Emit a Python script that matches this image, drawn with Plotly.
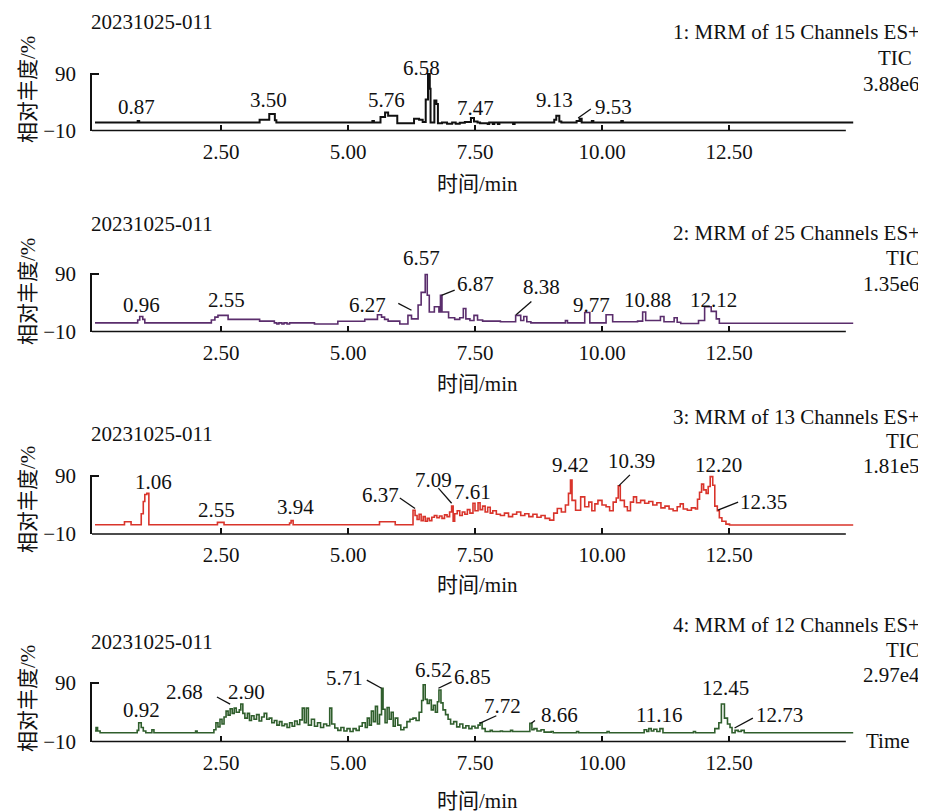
import plotly.graph_objects as go

W, H = 926, 811
OFF = 8  # the page body adds an 8 px margin; positions below are in screenshot pixels
FONT = "Liberation Serif, Times New Roman, Noto Sans CJK SC, serif"
FS = 21

# ---------------- data ----------------
time_1 = [0.02, 0.86, 0.89, 3.26, 3.45, 3.56, 3.59, 5.48, 5.51, 5.64,
          5.73, 5.79, 5.97, 6.30, 6.40, 6.47, 6.53, 6.575, 6.61, 6.625,
          6.70, 6.74, 6.77, 6.85, 6.95, 7.05, 7.12, 7.20, 7.30, 7.42,
          7.48, 7.55, 7.60, 7.75, 7.78, 7.85, 7.88, 7.95, 7.98, 8.25,
          8.28, 9.06, 9.10, 9.16, 9.20, 9.50, 9.56, 9.60, 9.80, 9.83,
          10.38, 10.41, 14.95]
abund_1 = [4, 7, 4, 9, 19, 8, 4, 7, 4, 14,
           22, 16, 3, 11, 9, 5, 45, 90, 64, 4,
           43, 37, 3, 4, 2, 4, 2, 3.5, 5, 12,
           6, 4, 3, 1.5, 4, 1.5, 4, 1.5, 4, 1.5,
           4, 9, 16, 6, 4, 7, 11, 4, 7, 4,
           7, 4, 4]

time_2 = [0.02, 0.86, 0.90, 0.96, 1.00, 2.31, 2.38, 2.44, 2.64, 3.26,
          3.55, 3.60, 3.64, 3.70, 3.74, 3.80, 3.85, 4.34, 4.80, 5.33,
          5.58, 5.66, 5.72, 5.79, 6.02, 6.18, 6.25, 6.38, 6.44, 6.52,
          6.56, 6.60, 6.70, 6.79, 6.82, 6.85, 6.98, 7.10, 7.20, 7.27,
          7.32, 7.40, 7.48, 7.55, 7.65, 8.00, 8.30, 8.40, 8.46, 8.52,
          8.60, 9.25, 9.28, 9.32, 9.66, 9.76, 10.08, 10.21, 10.70, 10.80,
          10.86, 11.15, 11.22, 11.42, 11.48, 11.55, 11.90, 12.02, 12.15, 12.25,
          12.31, 14.95]
abund_2 = [5, 10, 16, 11, 5, 10, 15, 18, 11, 8,
           5, 3, 5, 3, 5, 3, 5, 3, 7.7, 11,
           19, 15, 11, 8, 3, 18, 12, 36, 58, 89,
           53, 24, 33, 24, 53, 24, 14, 11, 14, 30,
           12, 9, 18, 10, 8, 7, 18, 9, 16, 7,
           5, 5, 9, 5, 23, 5, 19, 7, 8, 24,
           9, 16, 7, 14, 6, 4, 9, 33, 25, 12,
           4.3, 4.3]

time_3 = [0.02, 0.60, 0.73, 0.93, 0.97, 1.00, 1.04, 1.08, 2.43, 2.56,
          3.85, 3.88, 3.92, 5.62, 5.93, 6.28, 6.32, 6.36, 6.40, 6.44,
          6.48, 6.52, 6.56, 6.60, 6.65, 6.70, 6.75, 6.80, 6.85, 6.90,
          6.95, 7.00, 7.04, 7.07, 7.10, 7.15, 7.20, 7.25, 7.30, 7.35,
          7.40, 7.46, 7.50, 7.56, 7.60, 7.65, 7.70, 7.75, 7.80, 7.85,
          7.92, 8.00, 8.08, 8.16, 8.24, 8.32, 8.40, 8.48, 8.56, 8.64,
          8.72, 8.80, 8.88, 8.97, 9.05, 9.12, 9.20, 9.28, 9.34, 9.38,
          9.41, 9.48, 9.58, 9.66, 9.74, 9.80, 9.86, 9.92, 10.00, 10.08,
          10.15, 10.22, 10.28, 10.32, 10.36, 10.44, 10.50, 10.56, 10.62, 10.68,
          10.76, 10.84, 10.92, 11.00, 11.08, 11.16, 11.24, 11.32, 11.40, 11.48,
          11.54, 11.60, 11.68, 11.76, 11.84, 11.88, 11.92, 11.96, 12.00, 12.05,
          12.09, 12.13, 12.18, 12.22, 12.27, 12.31, 12.36, 12.44, 12.51, 14.95]
abund_3 = [6, 11, 6, 25, 46, 58, 60, 6, 10, 6,
           9, 13, 6, 11, 6, 31, 22, 15, 24, 13,
           20, 12, 17, 13, 19, 22, 18, 21, 17, 23,
           20, 28, 38, 12, 25, 30, 22, 28, 24, 32,
           26, 43, 30, 44, 32, 38, 28, 36, 26, 30,
           24, 22, 26, 20, 24, 28, 22, 25, 20, 24,
           19, 22, 17, 14, 26, 34, 28, 40, 60, 83,
           48, 31, 54, 37, 45, 30, 42, 48, 40, 37,
           30, 45, 52, 73, 48, 37, 30, 45, 54, 44,
           48, 43, 46, 40, 44, 35, 38, 33, 30, 37,
           42, 33, 31, 35, 33, 50, 62, 76, 66, 60,
           72, 89, 74, 38, 30, 18, 12, 7, 5.5, 5.5]

time_4 = [0.02, 0.04, 0.07, 0.12, 0.85, 0.88, 0.93, 0.97, 1.02, 1.14,
          1.18, 2.00, 2.03, 2.36, 2.40, 2.44, 2.48, 2.52, 2.56, 2.60,
          2.64, 2.68, 2.72, 2.76, 2.80, 2.86, 2.89, 2.93, 2.97, 3.02,
          3.06, 3.10, 3.15, 3.20, 3.25, 3.30, 3.35, 3.40, 3.45, 3.50,
          3.55, 3.60, 3.65, 3.70, 3.75, 3.80, 3.85, 3.90, 3.95, 4.00,
          4.05, 4.10, 4.14, 4.18, 4.22, 4.28, 4.34, 4.40, 4.46, 4.52,
          4.58, 4.64, 4.68, 4.74, 4.80, 4.86, 4.92, 4.98, 5.04, 5.10,
          5.16, 5.22, 5.28, 5.34, 5.38, 5.42, 5.46, 5.50, 5.54, 5.58,
          5.62, 5.66, 5.69, 5.73, 5.77, 5.81, 5.85, 5.89, 5.93, 5.98,
          6.04, 6.10, 6.16, 6.22, 6.28, 6.34, 6.40, 6.45, 6.48, 6.52,
          6.56, 6.60, 6.64, 6.68, 6.72, 6.76, 6.79, 6.83, 6.87, 6.92,
          6.97, 7.02, 7.08, 7.14, 7.20, 7.26, 7.32, 7.38, 7.44, 7.50,
          7.56, 7.60, 7.64, 7.70, 7.80, 7.84, 8.00, 8.04, 8.20, 8.24,
          8.50, 8.58, 8.62, 8.66, 8.72, 8.80, 8.86, 9.00, 9.04, 9.50,
          9.54, 10.10, 10.14, 10.83, 10.88, 10.92, 10.97, 11.02, 11.08, 11.14,
          11.20, 11.80, 11.84, 12.22, 12.30, 12.35, 12.41, 12.47, 12.52, 12.56,
          12.62, 12.68, 12.74, 12.80, 14.95]
abund_4 = [8, 14, 8, 5, 9, 22, 14, 8, 5, 10,
           5, 8, 5, 10, 22, 15, 28, 20, 32, 42,
           35, 46, 38, 47, 40, 44, 54, 38, 30, 38,
           26, 34, 28, 36, 25, 32, 38, 28, 30, 22,
           26, 18, 24, 17, 20, 14, 22, 16, 25, 19,
           27, 47, 22, 47, 18, 28, 16, 22, 14, 20,
           17, 47, 20, 13, 9, 14, 8, 12, 7, 12,
           9, 16, 22, 14, 30, 18, 42, 24, 50, 20,
           36, 81, 45, 22, 48, 28, 40, 16, 30, 18,
           10, 14, 24, 28, 30, 26, 40, 60, 87, 62,
           55, 61, 44, 52, 40, 58, 78, 56, 44, 36,
           28, 20, 24, 15, 20, 13, 17, 12, 16, 13,
           18, 22, 12, 7, 9, 7, 8, 7, 9, 7,
           7, 21, 10, 12, 8, 10, 6, 7, 5, 7,
           5, 7, 5, 10, 7, 12, 8, 11, 7, 12,
           5, 7, 5, 12, 22, 54, 30, 20, 14, 5,
           9, 7, 9, 5, 5]

# peak labels: text, time position, abundance position
labels_1 = [("0.87", 0.84, 32), ("3.50", 3.43, 44), ("5.76", 5.75, 44),
            ("6.58", 6.45, 100), ("7.47", 7.50, 29), ("9.13", 9.06, 44),
            ("9.53", 10.22, 32)]
leaders_1 = [(9.53, 12, 9.78, 28)]

labels_2 = [("0.96", 0.94, 36), ("2.55", 2.61, 45), ("6.27", 5.38, 36),
            ("6.57", 6.45, 117), ("6.87", 7.50, 73), ("8.38", 8.81, 67),
            ("9.77", 9.79, 36), ("10.88", 10.89, 45), ("12.12", 12.20, 45)]
leaders_2 = [(5.99, 39, 6.25, 27), (6.84, 53, 7.10, 62), (8.31, 19, 8.61, 42)]

labels_3 = [("1.06", 1.18, 80), ("2.55", 2.42, 31), ("3.94", 3.96, 37),
            ("6.37", 5.63, 57), ("7.09", 6.68, 83), ("7.61", 7.46, 63),
            ("9.42", 9.38, 109), ("10.39", 10.58, 115), ("12.20", 12.30, 109),
            ("12.35", 13.17, 46)]
leaders_3 = [(6.02, 52, 6.32, 34), (6.78, 69, 7.04, 43), (10.33, 73, 10.55, 92),
             (12.28, 31, 12.68, 45)]

labels_4 = [("0.92", 0.94, 44), ("2.68", 1.79, 75), ("2.90", 3.00, 75),
            ("5.71", 4.94, 98), ("6.52", 6.68, 112), ("6.85", 7.46, 100),
            ("7.72", 8.04, 50), ("8.66", 9.17, 35), ("11.16", 11.12, 35),
            ("12.45", 12.43, 81), ("12.73", 13.50, 35)]
leaders_4 = [(2.42, 66, 2.68, 54), (5.37, 95, 5.66, 81), (6.78, 81, 7.04, 92),
             (7.59, 21, 7.92, 34), (8.61, 21, 8.68, 26), (12.61, 13, 12.97, 30)]

sample_name = "20231025-011"
channel_titles = ["1: MRM of 15 Channels ES+", "2: MRM of 25 Channels ES+",
                  "3: MRM of 13 Channels ES+", "4: MRM of 12 Channels ES+"]
tic_values = ["3.88e6", "1.35e6", "1.81e5", "2.97e4"]
x_tick_vals = [2.5, 5.0, 7.5, 10.0, 12.5]
x_tick_text = ["2.50", "5.00", "7.50", "10.00", "12.50"]
y_tick_vals = [-10, 90]
y_tick_text = ["\u221210", "90"]
x_title = "时间/min"
y_title = "相对丰度/%"


# ---------------- layout geometry (screenshot pixels) ----------------
def fx(px):
    return (px - OFF) / W


def fy(py):
    return 1 - (py - OFF) / H


T0_PX, PX_PER_MIN = 94.0, 50.8
X_AXIS_END = 14.80
x_range = [(92 - T0_PX) / PX_PER_MIN, 14.95]
x_dom = [fx(92), fx(T0_PX + x_range[1] * PX_PER_MIN)]
Y_RANGE = [-10, 92]

panels = [
    dict(t=time_1, a=abund_1, color="#111111", width=2.0, bot=130.5, top90=74,
         labels=labels_1, leaders=leaders_1, name_y=22, right_y=[32, 58, 84],
         right_x=[922, 914, 922], ytitle_y=90, xtitle_y=184),
    dict(t=time_2, a=abund_2, color="#5a2d6c", width=1.6, bot=331.5, top90=274,
         labels=labels_2, leaders=leaders_2, name_y=224, right_y=[233, 258, 284],
         right_x=[922, 922, 922], ytitle_y=292, xtitle_y=384),
    dict(t=time_3, a=abund_3, color="#d9342b", width=1.6, bot=534, top90=476,
         labels=labels_3, leaders=leaders_3, name_y=434, right_y=[417, 441, 466],
         right_x=[922, 922, 922], ytitle_y=500, xtitle_y=585),
    dict(t=time_4, a=abund_4, color="#2f5e2c", width=1.6, bot=741.5, top90=683,
         labels=labels_4, leaders=leaders_4, name_y=642, right_y=[625, 650, 675],
         right_x=[922, 922, 922], ytitle_y=699, xtitle_y=801),
]

fig = go.Figure()
annotations = []
shapes = []
layout = dict(width=W, height=H,
              margin=dict(l=0, r=0, t=0, b=0, pad=0, autoexpand=False),
              paper_bgcolor="white", plot_bgcolor="white", showlegend=False,
              font=dict(family=FONT, size=FS, color="#111111"))

for i, p in enumerate(panels):
    n = "" if i == 0 else str(i + 1)
    xa, ya = "x" + n, "y" + n
    fig.add_trace(go.Scatter(x=p["t"], y=p["a"], mode="lines", xaxis=xa, yaxis=ya,
                             line=dict(color=p["color"], width=p["width"], shape="hv"),
                             hoverinfo="skip"))
    ppu = (p["bot"] - p["top90"]) / 100.0
    ybot = fy(p["bot"])
    ytop = fy(p["top90"] - (Y_RANGE[1] - 90) * ppu)

    def px_(t):
        return x_dom[0] + (t - x_range[0]) / (x_range[1] - x_range[0]) * (x_dom[1] - x_dom[0])

    def py_(v, ybot=ybot, ytop=ytop):
        return ybot + (v - Y_RANGE[0]) / (Y_RANGE[1] - Y_RANGE[0]) * (ytop - ybot)

    layout["xaxis" + n] = dict(domain=x_dom, range=x_range, anchor=ya, showgrid=False,
                               zeroline=False, showline=False, ticks="inside",
                               ticklen=6, tickwidth=1.6, tickcolor="#111111",
                               tickvals=x_tick_vals, ticktext=x_tick_text,
                               ticklabelstandoff=6, automargin=False,
                               tickfont=dict(family=FONT, size=FS, color="#111111"))
    layout["yaxis" + n] = dict(domain=[ybot, ytop], range=Y_RANGE, anchor=xa,
                               showgrid=False, zeroline=False, showline=True,
                               linecolor="#111111", linewidth=1.6, ticks="inside",
                               ticklen=7, tickwidth=1.6, tickcolor="#111111",
                               tickvals=y_tick_vals, ticktext=y_tick_text,
                               ticklabelstandoff=10, automargin=False,
                               tickfont=dict(family=FONT, size=FS, color="#111111"))
    # x axis baseline (ends before the trace end, as in the original)
    shapes.append(dict(type="line", xref="paper", yref="paper", x0=px_(x_range[0]),
                       x1=px_(X_AXIS_END), y0=py_(-10), y1=py_(-10),
                       line=dict(color="#111111", width=1.6)))
    for (t0, v0, t1, v1) in p["leaders"]:
        shapes.append(dict(type="line", xref="paper", yref="paper", x0=px_(t0), y0=py_(v0),
                           x1=px_(t1), y1=py_(v1), line=dict(color="#111111", width=1.3)))
    for (txt, tx, vy) in p["labels"]:
        annotations.append(dict(text=txt, xref="paper", yref="paper", x=px_(tx), y=py_(vy),
                                showarrow=False, xanchor="center", yanchor="middle",
                                font=dict(family=FONT, size=FS, color="#111111")))
    # sample name
    annotations.append(dict(text=sample_name, xref="paper", yref="paper", x=fx(89),
                            y=fy(p["name_y"]), xanchor="left", yanchor="middle",
                            showarrow=False, font=dict(family=FONT, size=FS, color="#111111")))
    # right-hand header
    for txt, yy, xx in zip([channel_titles[i], "TIC", tic_values[i]], p["right_y"], p["right_x"]):
        annotations.append(dict(text=txt, xref="paper", yref="paper", x=fx(xx),
                                y=fy(yy), xanchor="right", yanchor="middle",
                                showarrow=False, font=dict(family=FONT, size=FS, color="#111111")))
    # axis titles
    annotations.append(dict(text=y_title, xref="paper", yref="paper", x=fx(28),
                            y=fy(p["ytitle_y"]), xanchor="center", yanchor="middle",
                            textangle=-90, showarrow=False,
                            font=dict(family=FONT, size=FS, color="#111111")))
    annotations.append(dict(text=x_title, xref="paper", yref="paper", x=fx(477),
                            y=fy(p["xtitle_y"]), xanchor="center", yanchor="middle",
                            showarrow=False, font=dict(family=FONT, size=FS, color="#111111")))

annotations.append(dict(text="Time", xref="paper", yref="paper", x=fx(864),
                        y=fy(741), xanchor="left", yanchor="middle", showarrow=False,
                        font=dict(family=FONT, size=FS, color="#111111")))

layout["annotations"] = annotations
layout["shapes"] = shapes
fig.update_layout(**layout)
fig.write_html("out.html")
